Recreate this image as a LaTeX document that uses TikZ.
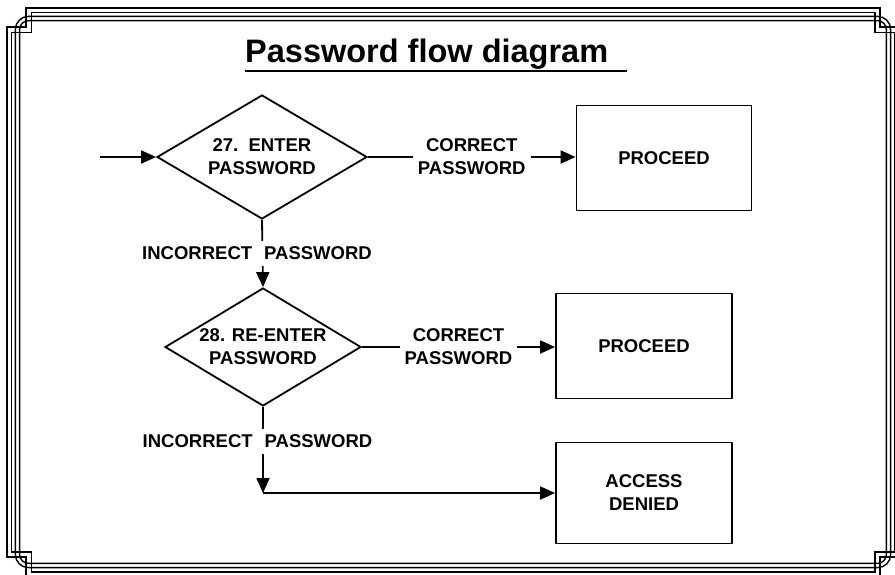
\documentclass[tikz,border=0pt]{standalone}
\usepackage{fontspec}
\setmainfont{Liberation Sans}
\usetikzlibrary{arrows.meta}
\usetikzlibrary{shapes.geometric}
\newcommand\flowfont{\fontsize{18.5}{23}\selectfont\bfseries}
\tikzset{
  decision/.style={diamond, draw, line width=1.8pt, inner sep=0pt, shape aspect=1.7, align=center, font=\flowfont},
  outcome/.style={rectangle, draw, line width=1.8pt, align=center, font=\flowfont},
  flow/.style={line width=1.8pt, -{Triangle[length=15pt,width=13pt]}},
  flowlabel/.style={fill=white, align=center, font=\flowfont, inner xsep=5pt, inner ysep=6pt},
  frameline/.style={line width=1.4pt},
}

\begin{document}
\begin{tikzpicture}[x=1pt, y=-1pt]
      \useasboundingbox (0, 0) rectangle (895, 574);
      % border
      \begin{scope}
        \clip (0, 0) rectangle (895, 574);
        \draw[frameline] (7, 27) -- (26, 27) -- (26, 8) -- (880, 8) -- (880, 27) -- (899, 27)
          -- (899, 557) -- (880, 557) -- (880, 576) -- (26, 576) -- (26, 557) -- (7, 557) -- cycle;
        \draw[frameline] (11.2, 32.2) -- (31.2, 32.2) -- (31.2, 12.2) -- (874.8, 12.2) -- (874.8, 32.2) -- (894.8, 32.2)
          -- (894.8, 551.8) -- (874.8, 551.8) -- (874.8, 571.8) -- (31.2, 571.8) -- (31.2, 551.8) -- (11.2, 551.8) -- cycle;
        \draw[frameline, rounded corners=13pt] (15.4, 16.4) rectangle (890.6, 567.6);
        \draw[frameline, rounded corners=9pt] (19.6, 20.6) rectangle (886.4, 563.4);
      \end{scope}
      % title
      \node (title) at (245, 62) [anchor=base west, inner sep=0pt, font=\fontsize{32.5}{38}\selectfont\bfseries] {Password flow diagram};
      \draw[line width=1.8pt] (title.base west) ++(0, 9) -- ++(382, 0);
      % flow
      \coordinate (start) at (100, 157);
      \node (enter) at (262, 157) [decision, minimum width=210pt, minimum height=124pt] {27.\ \ ENTER\\PASSWORD};
      \node (proceedA) at (664, 158) [outcome, minimum width=175pt, minimum height=105pt] {PROCEED};
      \node (reenter) at (263, 347) [decision, minimum width=196pt, minimum height=118pt] {28. RE-ENTER\\PASSWORD};
      \node (proceedB) at (644, 346) [outcome, minimum width=176pt, minimum height=105pt] {PROCEED};
      \node (denied) at (644, 493) [outcome, minimum width=176pt, minimum height=101pt] {ACCESS\\DENIED};
      \coordinate (bend) at (263, 493);
      \draw[flow] (start) -- (enter);
      \draw[flow] (enter.east) -- node[flowlabel] {CORRECT\\PASSWORD} (enter.east -| proceedA.west);
      \draw[flow] (enter.south) -- node[flowlabel, xshift=-5.5pt] {INCORRECT\hspace{12pt}PASSWORD} (reenter.north);
      \draw[flow] (reenter.east) -- node[flowlabel] {CORRECT\\PASSWORD} (reenter.east -| proceedB.west);
      \draw[flow] (reenter.south) -- node[flowlabel, pos=0.4, xshift=-5.5pt] {INCORRECT\hspace{12pt}PASSWORD} (bend);
      \draw[flow] (bend) -- (denied.west);
    \end{tikzpicture}
\end{document}
